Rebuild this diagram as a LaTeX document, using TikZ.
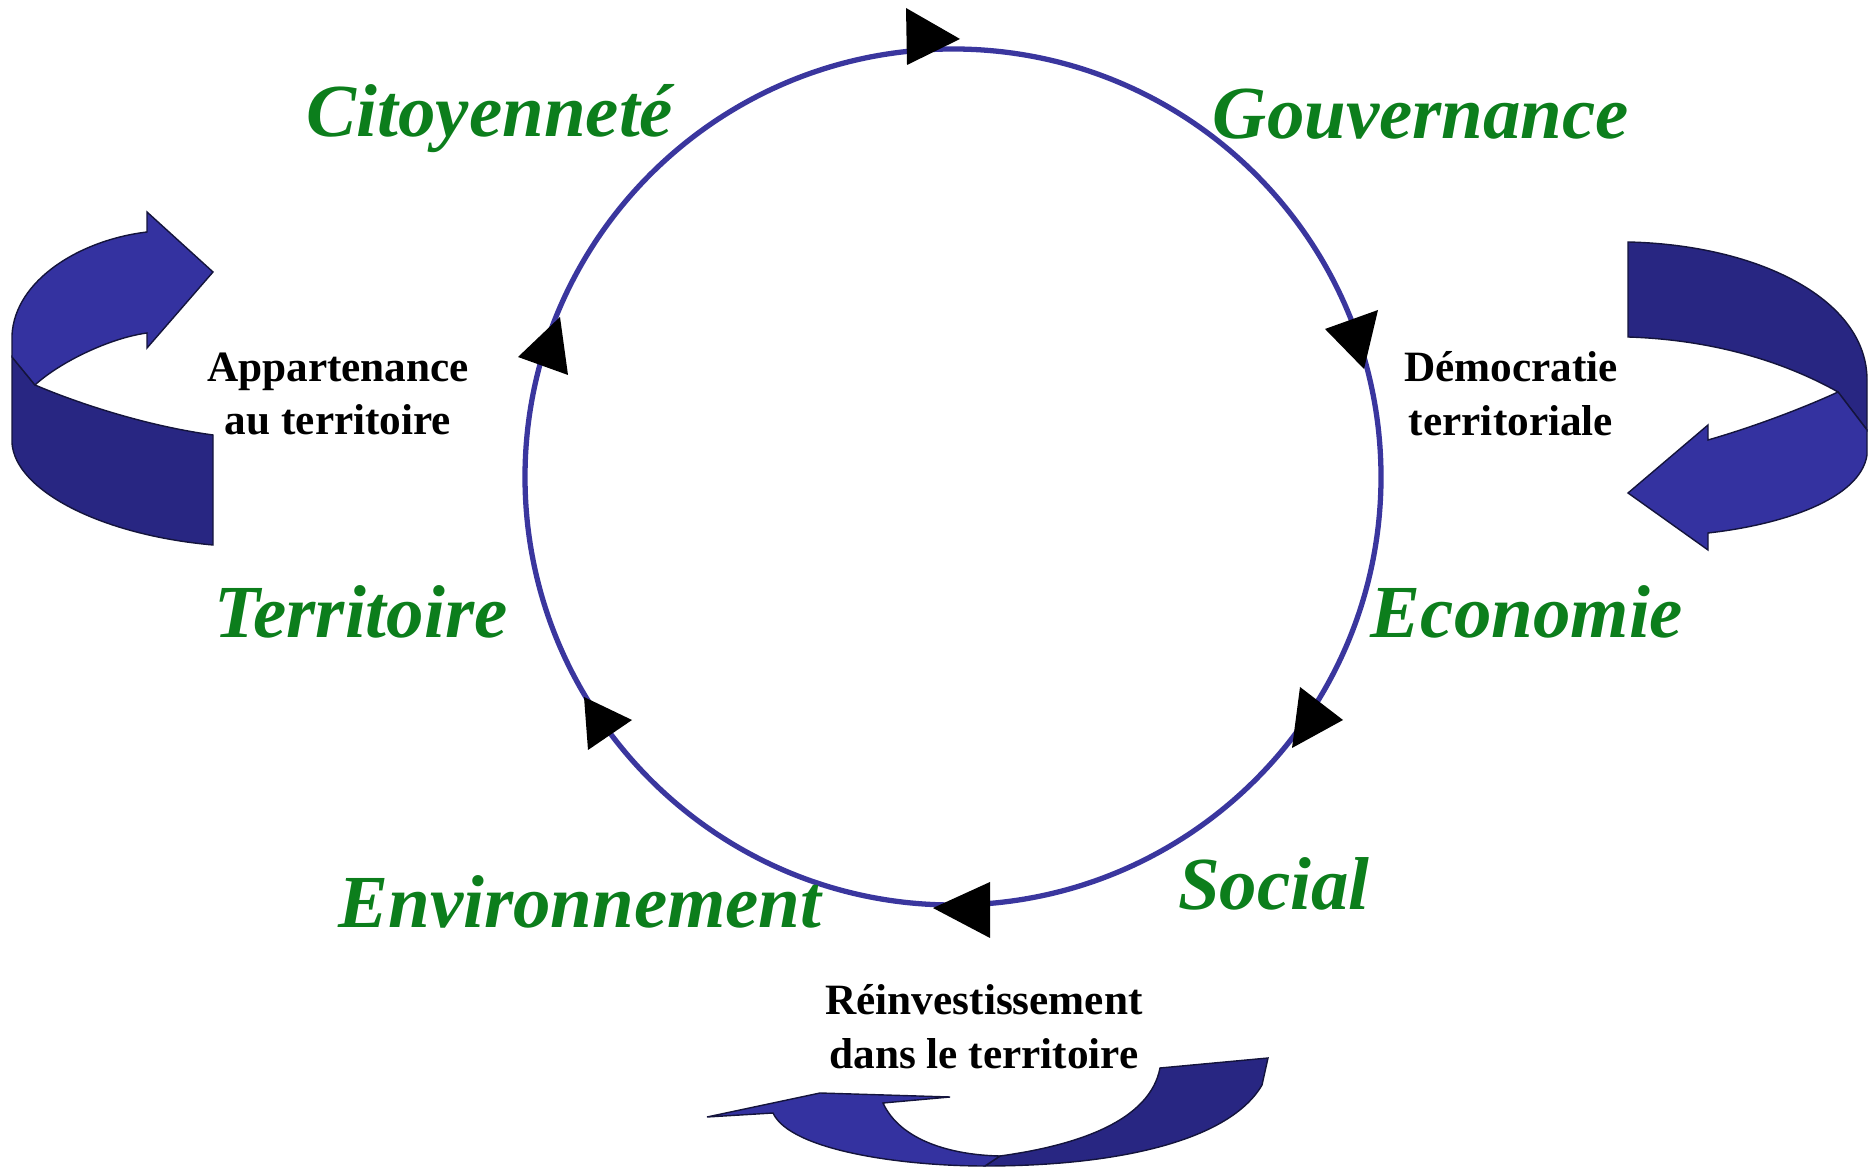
\documentclass[tikz,border=0pt]{standalone}
\usepackage{fontspec}
\setmainfont{Liberation Serif}
\definecolor{ringblue}{RGB}{58,54,158}
\definecolor{termgreen}{RGB}{12,126,28}
\definecolor{ribbonlight}{RGB}{52,50,160}
\definecolor{ribbondark}{RGB}{40,38,130}
\definecolor{ribbonedge}{RGB}{20,20,60}
\begin{document}
\begin{tikzpicture}[x=0.01cm,y=-0.01cm,
    term/.style={anchor=base,text=termgreen,font=\fontsize{21.3pt}{25pt}\selectfont\bfseries\itshape},
    note/.style={align=center,font=\fontsize{12.3pt}{15.3pt}\selectfont\bfseries},
    tick/.style={fill=black},
    lightband/.style={fill=ribbonlight,draw=ribbonedge,line width=0.4pt},
    darkband/.style={fill=ribbondark,draw=ribbonedge,line width=0.4pt}]
	\useasboundingbox (0,0) rectangle (1870,1168);
	
	\draw[ringblue,line width=1.5pt] (953,477) circle[radius=428];
	
	\fill[tick] (906,8) -- (960,39) -- (907,65) -- cycle;
	\fill[tick] (1325,329) -- (1378,310) -- (1364,369) -- cycle;
	\fill[tick] (1300,687) -- (1343,720) -- (1292,748) -- cycle;
	\fill[tick] (990,882) -- (933,908) -- (990,938) -- cycle;
	\fill[tick] (584,697) -- (632,720) -- (588,750) -- cycle;
	\fill[tick] (560,317) -- (518,357) -- (568,375) -- cycle;
	
	\node[term] (citoyennete) at (490,137) {Citoyenneté};
	\node[term] (gouvernance) at (1421,139) {Gouvernance};
	\node[term] (territoire) at (361,638) {Territoire};
	\node[term] (economie) at (1527,638) {Economie};
	\node[term] (environnement) at (580,928) {Environnement};
	\node[term] (social) at (1274,910) {Social};
	
	\node[note] (appartenance) at (338,394) {Appartenance\\au territoire};
	\node[note] (democratie) at (1511,394) {Démocratie\\territoriale};
	\node[note] (reinvestissement) at (984,1027) {Réinvestissement\\dans le territoire};
	
	\draw[darkband] (12,357) -- (12,443) .. controls (15,490) and (100,535) .. (213,545)
		-- (213,435) .. controls (140,425) and (70,400) .. (35,385) -- cycle;
	\draw[lightband] (12,335) .. controls (15,280) and (80,240) .. (147,232)
		-- (147,212) -- (213,272) -- (147,348) -- (147,333)
		.. controls (110,338) and (60,362) .. (35,385) -- (12,357) -- cycle;
	
	\draw[darkband] (1628,242) .. controls (1760,245) and (1867,300) .. (1867,380)
		-- (1867,430) -- (1838,392) .. controls (1790,365) and (1720,340) .. (1628,337) -- cycle;
	\draw[lightband] (1838,392) -- (1867,430) -- (1867,455) .. controls (1860,500) and (1780,525) .. (1708,533)
		-- (1708,550) -- (1628,493) -- (1708,425) -- (1708,440)
		.. controls (1760,425) and (1810,405) .. (1838,392) -- cycle;
	
	\draw[darkband] (1160,1068) -- (1268,1058) -- (1262,1085)
		.. controls (1230,1140) and (1120,1166) .. (985,1166)
		-- (1000,1156) .. controls (1080,1145) and (1150,1120) .. (1160,1068) -- cycle;
	\draw[lightband] (707,1117) -- (820,1093) -- (950,1097) -- (883,1103)
		.. controls (900,1140) and (950,1155) .. (1000,1156) -- (985,1166)
		.. controls (900,1166) and (790,1150) .. (773,1113) -- cycle;
	
\end{tikzpicture}
\end{document}
